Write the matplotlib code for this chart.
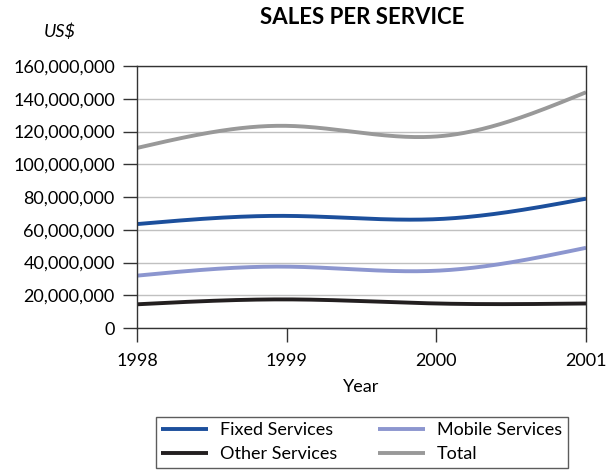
import numpy as np
import matplotlib
matplotlib.use("Agg")
import matplotlib.pyplot as plt

plt.rcParams['font.family'] = ['Lato', 'DejaVu Sans']

years = [1998, 1999, 2000, 2001]
fixed = [63.5e6, 68.5e6, 66.5e6, 79e6]
mobile = [32e6, 37.5e6, 35e6, 49e6]
other = [14.5e6, 17.5e6, 15e6, 15e6]
total = [110e6, 123.5e6, 117e6, 144e6]

# order chosen so the 2-column legend reads Fixed/Mobile on row 1, Other/Total on row 2
series = [
    ("Fixed Services", fixed, "#1c4f9c"),
    ("Other Services", other, "#231f20"),
    ("Mobile Services", mobile, "#8c96cf"),
    ("Total", total, "#999999"),
]


def natural_spline(x, y, n=200):
    # natural cubic spline through the data points, for a smooth line
    x = np.asarray(x, float)
    y = np.asarray(y, float)
    k = len(x)
    h = np.diff(x)
    A = np.zeros((k, k))
    b = np.zeros(k)
    A[0, 0] = A[-1, -1] = 1
    for i in range(1, k - 1):
        A[i, i - 1] = h[i - 1]
        A[i, i] = 2 * (h[i - 1] + h[i])
        A[i, i + 1] = h[i]
        b[i] = 6 * ((y[i + 1] - y[i]) / h[i] - (y[i] - y[i - 1]) / h[i - 1])
    m = np.linalg.solve(A, b)
    xs = np.linspace(x[0], x[-1], n)
    idx = np.clip(np.searchsorted(x, xs) - 1, 0, k - 2)
    x0, x1 = x[idx], x[idx + 1]
    hh = x1 - x0
    t0, t1 = x1 - xs, xs - x0
    ys = (m[idx] * t0**3 + m[idx + 1] * t1**3) / (6 * hh) \
        + (y[idx] / hh - m[idx] * hh / 6) * t0 \
        + (y[idx + 1] / hh - m[idx + 1] * hh / 6) * t1
    return xs, ys


fig = plt.figure(figsize=(6.07, 4.72), dpi=100)
ax = fig.add_axes([0.2257, 0.305, 0.7397, 0.555])

for label, vals, col in series:
    xs, ys = natural_spline(years, vals)
    ax.plot(xs, ys, color=col, lw=2.8, label=label, solid_capstyle='butt')

ax.set_xlim(1998, 2001)
ax.set_ylim(0, 160e6)
ax.set_xticks(years)
ax.set_xticklabels([str(y) for y in years])
ax.set_yticks(np.arange(0, 160e6 + 1, 20e6))
ax.yaxis.set_major_formatter(matplotlib.ticker.FuncFormatter(lambda v, p: f"{int(v):,}"))
ax.grid(axis='y', color='#c0c0c0', lw=1)
ax.set_axisbelow(True)
for s in ax.spines.values():
    s.set_color('#333333')
    s.set_linewidth(1)
ax.tick_params(axis='both', direction='out', length=10, width=1, color='#333333',
               labelsize=13, pad=6)
ax.tick_params(axis='x', pad=8)

ax.set_xlabel("Year", fontsize=13, labelpad=7)
fig.text(0.597, 0.962, "SALES PER SERVICE", ha='center', va='center',
         fontsize=16, fontweight='bold')
fig.text(0.099, 0.932, "US$", ha='center', va='center', fontsize=13, style='italic')

ax.legend(loc='upper left', bbox_to_anchor=(0.242, 0.008, 0.708, 0.128),
          bbox_transform=fig.transFigure, mode='expand', ncol=2, fontsize=13,
          frameon=True, fancybox=False, edgecolor='#333333', handlelength=2.6,
          borderpad=0.3, labelspacing=0.45, columnspacing=1.5, handletextpad=0.65)
leg = ax.get_legend()
leg.get_frame().set_linewidth(1)

fig.savefig("out.png", dpi=100)
